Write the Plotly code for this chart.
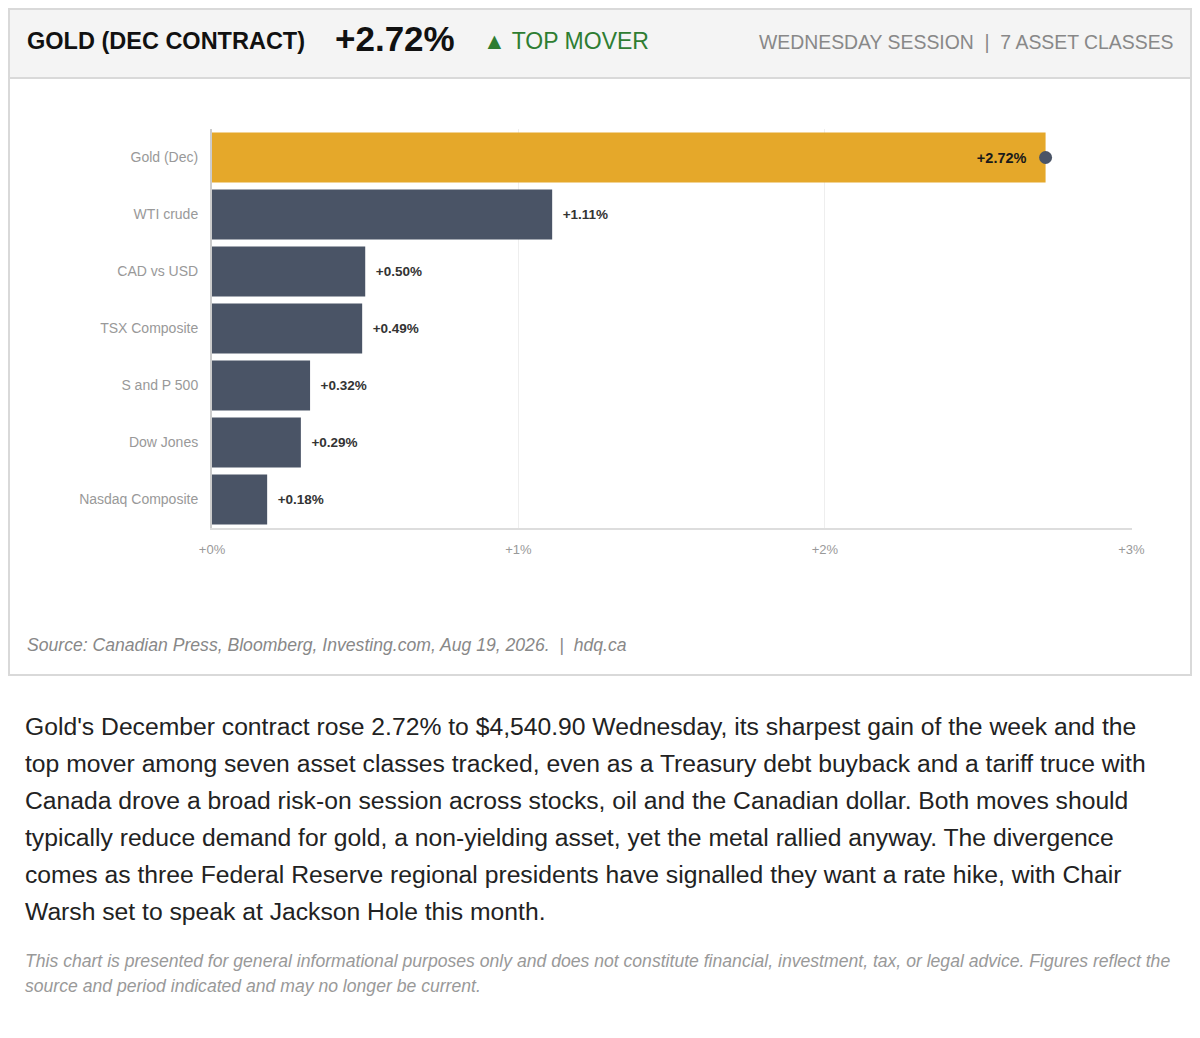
import plotly.graph_objects as go

# data
assets = ["Gold (Dec)", "WTI crude", "CAD vs USD", "TSX Composite", "S and P 500", "Dow Jones", "Nasdaq Composite"]
changes = [2.72, 1.11, 0.50, 0.49, 0.32, 0.29, 0.18]
x_ticks = [0, 1, 2, 3]
x_tick_labels = ["+0%", "+1%", "+2%", "+3%"]

headline = "GOLD (DEC CONTRACT)"
headline_value = "+2.72%"
badge = "▲ TOP MOVER"
session_note = "WEDNESDAY SESSION  |  7 ASSET CLASSES"
source_note = "Source: Canadian Press, Bloomberg, Investing.com, Aug 19, 2026.  |  hdq.ca"
body_lines = [
    "Gold's December contract rose 2.72% to $4,540.90 Wednesday, its sharpest gain of the week and the",
    "top mover among seven asset classes tracked, even as a Treasury debt buyback and a tariff truce with",
    "Canada drove a broad risk-on session across stocks, oil and the Canadian dollar. Both moves should",
    "typically reduce demand for gold, a non-yielding asset, yet the metal rallied anyway. The divergence",
    "comes as three Federal Reserve regional presidents have signalled they want a rate hike, with Chair",
    "Warsh set to speak at Jackson Hole this month.",
]
disclaimer_lines = [
    "This chart is presented for general informational purposes only and does not constitute financial, investment, tax, or legal advice. Figures reflect the",
    "source and period indicated and may no longer be current.",
]

# the page body adds an 8px margin, so the figure is sized to fit inside the window
OFF = 8
W, H = 1184, 1022
FONT = "Liberation Sans, Arial, sans-serif"
GOLD = "#e5a82a"
SLATE = "#4a5466"
NB = "\u00a0"


def px_x(v):
    # v is a page pixel position
    return (v - OFF) / W


def px_y(v):
    return 1 - (v - OFF) / H


colors = [GOLD if i == 0 else SLATE for i in range(len(assets))]
labels = [
    f"<b><span style='font-size:14.5px'>+{v:.2f}%</span></b>{NB * 4}" if i == 0 else f"{NB * 2}<b>+{v:.2f}%</b>"
    for i, v in enumerate(changes)
]
positions = ["inside" if i == 0 else "outside" for i in range(len(assets))]

fig = go.Figure()
fig.add_trace(go.Bar(
    x=changes, y=assets, orientation="h",
    marker=dict(color=colors, line=dict(width=0)),
    text=labels, textposition=positions,
    insidetextanchor="end",
    outsidetextfont=dict(family=FONT, size=13.5, color="#333"),
    insidetextfont=dict(family=FONT, size=14.5, color="#1a1a1a"),
    texttemplate="%{text}",
    constraintext="none", cliponaxis=False,
    hoverinfo="skip",
))
# end dot on the top mover
fig.add_trace(go.Scatter(
    x=[changes[0]], y=[assets[0]], mode="markers",
    marker=dict(color=SLATE, size=13), hoverinfo="skip", cliponaxis=False,
))

right_edge = (W - 1) / W
shapes = [
    # card
    dict(type="rect", xref="paper", yref="paper", x0=px_x(9), x1=right_edge, y0=px_y(9), y1=px_y(675),
         line=dict(color="#d9d9d9", width=2), fillcolor="white", layer="below"),
    # header band
    dict(type="rect", xref="paper", yref="paper", x0=px_x(9), x1=right_edge, y0=px_y(9), y1=px_y(78),
         line=dict(color="#d9d9d9", width=2), fillcolor="#f4f4f4", layer="below"),
]

annotations = [
    dict(text=f"<b>{headline}</b>", x=px_x(25), y=px_y(41), font=dict(size=23.5, color="#111")),
    dict(text=f"<b>{headline_value}</b>", x=px_x(333), y=px_y(38), font=dict(size=35, color="#111")),
    dict(text=badge, x=px_x(481), y=px_y(41), font=dict(size=23, color="#2e7d32")),
    dict(text=session_note, x=px_x(1176), y=px_y(42), xanchor="right", font=dict(size=19.4, color="#888")),
    dict(text=f"<i>{source_note}</i>", x=px_x(25), y=px_y(645), font=dict(size=17.6, color="#888")),
]
for i, line in enumerate(body_lines):
    annotations.append(dict(text=line, x=px_x(23), y=px_y(726 + 37 * i), font=dict(size=24.7, color="#222")))
for i, line in enumerate(disclaimer_lines):
    annotations.append(dict(text=f"<i>{line}</i>", x=px_x(23), y=px_y(961 + 25 * i), font=dict(size=17.6, color="#999")))
for a in annotations:
    a.update(xref="paper", yref="paper", showarrow=False, yanchor="middle", align="left")
    a.setdefault("xanchor", "left")
    a["font"]["family"] = FONT

fig.update_layout(
    width=W, height=H, autosize=False,
    margin=dict(l=0, r=0, t=0, b=0, autoexpand=False),
    paper_bgcolor="white", plot_bgcolor="white",
    showlegend=False, bargap=0.12,
    font=dict(family=FONT),
    shapes=shapes, annotations=annotations,
    xaxis=dict(
        domain=[px_x(212), px_x(1132)], range=[0, 3.002],
        tickvals=x_ticks, ticktext=x_tick_labels,
        tickfont=dict(size=13, color="#999"),
        showgrid=True, gridcolor="#eeeeee", gridwidth=1,
        showline=True, linecolor="#dddddd", linewidth=2,
        zeroline=False, ticks="", ticklabelstandoff=8, fixedrange=True,
        automargin=False,
    ),
    yaxis=dict(
        domain=[px_y(528), px_y(129)],
        categoryorder="array", categoryarray=assets[::-1],
        tickfont=dict(size=14, color="#999"),
        showgrid=False, showline=True, linecolor="#cccccc", linewidth=2,
        ticks="", ticklabelstandoff=9, fixedrange=True,
        automargin=False,
    ),
)

fig.write_html("out.html")
